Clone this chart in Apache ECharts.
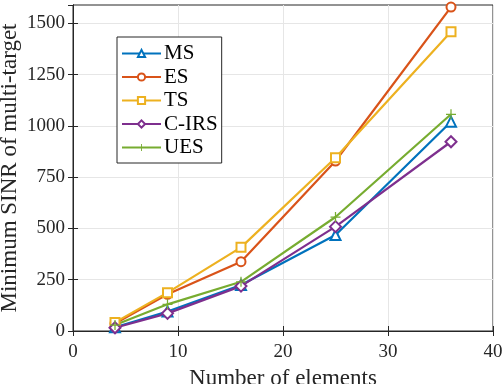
<!DOCTYPE html>
<html>
<head>
<meta charset="utf-8">
<script src="https://cdn.jsdelivr.net/npm/echarts@6/dist/echarts.min.js"></script>
<style>
  html, body { margin: 0; padding: 0; background: #fff; }
  #chart { width: 504px; height: 384px; }
</style>
</head>
<body>
<div id="chart"></div>
<script>
const elements = [4, 9, 16, 25, 36];
const msVals   = [18, 95, 224, 468, 1021];
const esVals   = [37, 179, 338, 829, 1580];
const tsVals   = [42, 187, 408, 845, 1460];
const cirsVals = [16, 86, 219, 509, 923];
const uesVals  = [29, 130, 240, 556, 1057];
const yTicks = [0, 250, 500, 750, 1000, 1250, 1500];

const font = "Liberation Serif";
const axisColor = "#262626";
const plusPath = "path://M-1,-8H1V-1H8V1H1V8H-1V1H-8V-1H-1Z";

const chart = echarts.init(document.getElementById("chart"), null, { renderer: "canvas" });

function pairs(vals){
  return elements.map((x, i) => [x, vals[i]]);
}

function lineSeries(name, vals, color, symbol, size){
  return {
    name,
    type: "line",
    data: pairs(vals),
    symbol,
    symbolSize: size,
    showAllSymbol: true,
    lineStyle: { color, width: 2.2 },
    itemStyle: { color, borderColor: color, borderWidth: 1.6 },
    emphasis: { disabled: true },
    z: 3
  };
}

const tickLabel = { fontFamily: font, fontSize: 19, color: axisColor };

chart.setOption({
  animation: false,
  backgroundColor: "#fff",
  grid: {
    left: 73, right: 11, top: 5, bottom: 53,
    outerBoundsMode: "none", containLabel: false,
    show: true, borderColor: axisColor, borderWidth: 1
  },
  legend: {
    left: 117, top: 37,
    orient: "vertical",
    itemWidth: 39, itemHeight: 9, itemGap: 2.5,
    padding: [6, 4, 5, 4],
    backgroundColor: "#fff",
    borderColor: axisColor, borderWidth: 1,
    textStyle: { fontFamily: font, fontSize: 21, color: "#000", padding: [0, 0, 0, -2] },
    data: ["MS", "ES", "TS", "C-IRS", "UES"]
  },
  xAxis: [
    {
      type: "value", min: 0, max: 40, interval: 10,
      name: "Number of elements", nameLocation: "middle", nameGap: 36, nameMoveOverlap: false,
      nameTextStyle: { fontFamily: font, fontSize: 23, color: axisColor },
      axisLine: { show: true, lineStyle: { color: axisColor } },
      axisTick: { inside: true, length: 5, lineStyle: { color: axisColor } },
      axisLabel: Object.assign({ margin: 12 }, tickLabel),
      splitLine: { show: true, lineStyle: { color: "#e6e6e6" } }
    },
    {
      type: "value", min: 0, max: 40, interval: 10, position: "top",
      axisLine: { show: true, lineStyle: { color: axisColor } },
      axisTick: { inside: true, length: 5, lineStyle: { color: axisColor } },
      axisLabel: { show: false }, splitLine: { show: false }
    }
  ],
  yAxis: [
    {
      type: "value", min: 0, max: 1590, interval: 250,
      name: "Minimum SINR of multi-target", nameLocation: "middle", nameGap: 52, nameMoveOverlap: false,
      nameTextStyle: { fontFamily: font, fontSize: 23, color: axisColor },
      axisLine: { show: true, lineStyle: { color: axisColor } },
      axisTick: { inside: true, length: 5, lineStyle: { color: axisColor } },
      axisLabel: Object.assign({ margin: 8, showMaxLabel: false, formatter: v => yTicks.includes(v) ? String(v) : "" }, tickLabel),
      splitLine: { show: true, showMaxLine: false, lineStyle: { color: "#e6e6e6" } }
    },
    {
      type: "value", min: 0, max: 1590, interval: 250, position: "right",
      axisLine: { show: true, lineStyle: { color: axisColor } },
      axisTick: { inside: true, length: 5, lineStyle: { color: axisColor } },
      axisLabel: { show: false }, splitLine: { show: false }
    }
  ],
  series: [
    lineSeries("MS", msVals, "#0072BD", "emptyTriangle", 10),
    lineSeries("ES", esVals, "#D95319", "emptyCircle", 9),
    lineSeries("TS", tsVals, "#EDB120", "emptyRect", 9),
    lineSeries("C-IRS", cirsVals, "#7E2F8E", "emptyDiamond", 11),
    Object.assign(lineSeries("UES", uesVals, "#77AC30", plusPath, 10), { itemStyle: { color: "#77AC30", borderWidth: 0 } })
  ]
});
</script>
</body>
</html>
